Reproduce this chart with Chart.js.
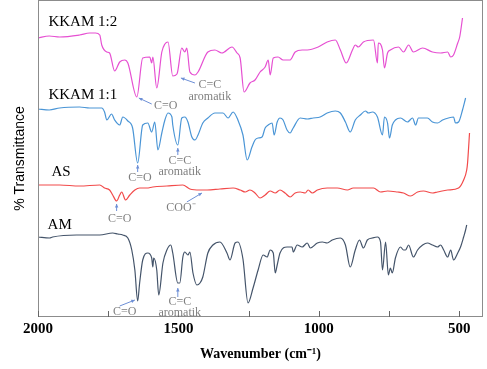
<!DOCTYPE html>
<html>
<head>
<meta charset="utf-8">
<script src="https://cdn.jsdelivr.net/npm/chart.js@4/dist/chart.umd.min.js"></script>
<style>
html,body{margin:0;padding:0;background:#fff;}
#wrap{width:487px;height:369px;}
</style>
</head>
<body>
<div id="wrap"><canvas id="ftir"></canvas></div>
<script>
// wavenumber (cm-1) y transmitancia desplazada (unidades arbitrarias)
const wnKkam12 = [2000,1960,1923,1852,1816,1795,1780,1773,1755,1745,1727,1709,1691,1680,1648,1627,1602,1595,1591,1577,1559,1548,1537,1520,1505,1488,1477,1470,1459,1441,1430,1395,1370,1345,1309,1291,1280,1266,1245,1227,1209,1191,1180,1173,1162,1145,1127,1102,1084,1059,1041,1002,970,941,923,902,880,870,859,841,805,791,788,773,766,755,745,716,698,680,663,630,595,566,541,530,520,505,498,488];
const tKkam12  = [279,281,280,282,284,284,282,272,265,264,246,255,257,254,220,259,260,254,260,229,265,273,275,241,243,269,265,269,245,242,245,265,267,264,270,264,259,225,234,237,245,250,257,242,259,260,257,257,265,267,267,270,275,277,267,254,267,272,270,275,277,254,274,267,249,264,267,270,265,272,265,269,265,264,265,260,262,274,280,299];

const wnKkam11 = [2000,1960,1923,1852,1816,1773,1763,1755,1738,1727,1709,1698,1680,1663,1645,1627,1609,1595,1584,1573,1559,1548,1537,1523,1520,1502,1488,1477,1466,1452,1441,1430,1413,1395,1370,1341,1323,1305,1288,1270,1255,1238,1227,1216,1202,1191,1180,1166,1159,1148,1138,1127,1113,1102,1091,1066,1041,1020,995,970,941,923,905,888,870,852,834,823,809,791,773,766,755,748,738,727,709,684,666,655,645,613,595,577,559,538,520,513,502,488,477];
const tKkam11  = [208,207,209,210,209,209,205,197,203,197,192,200,196,189,154,192,194,185,195,167,184,197,204,200,192,172,199,200,195,180,177,182,194,199,204,204,199,205,197,182,157,170,177,179,180,189,192,194,182,195,199,197,187,184,189,199,198,199,200,204,206,204,195,185,197,202,206,204,205,200,182,200,194,179,192,197,199,195,199,192,199,199,195,194,197,199,200,194,195,207,219];

const wnAs = [2000,1923,1852,1780,1763,1745,1734,1720,1709,1702,1688,1673,1655,1638,1613,1591,1541,1484,1459,1423,1398,1352,1305,1280,1262,1245,1227,1209,1191,1173,1155,1138,1120,1102,1084,1066,1048,1038,1023,1005,970,934,898,877,845,805,780,755,720,698,673,648,627,595,577,541,502,484,473,470,463];
const tAs  = [132,132,131,132,129,127,122,116,122,125,117,122,127,129,129,130,131,132,128,127,127,128,129,127,125,127,124,119,122,126,124,127,124,120,124,125,124,127,124,127,129,129,127,129,129,129,125,126,125,124,121,125,126,124,125,127,129,137,147,154,184];

const wnAm = [2000,1959,1948,1863,1780,1734,1716,1698,1680,1666,1655,1645,1638,1627,1609,1595,1591,1588,1577,1570,1555,1541,1527,1520,1502,1495,1484,1477,1466,1459,1448,1434,1423,1413,1395,1377,1352,1327,1316,1298,1288,1270,1252,1234,1216,1198,1184,1173,1162,1155,1148,1138,1113,1095,1091,1077,1059,1041,1030,1005,987,970,952,923,905,888,870,855,841,827,809,791,780,773,762,752,745,738,727,709,698,691,680,663,648,630,613,595,577,566,555,541,530,520,505,495,484,477,473];
const tAm  = [80,79,80,82,82,84,83,82,79,67,47,16,34,57,64,59,50,59,47,22,54,67,72,64,34,34,60,65,62,65,44,32,34,40,64,72,75,64,57,74,75,58,14,29,47,62,60,67,64,44,52,64,70,70,65,72,70,74,69,74,75,74,77,79,72,50,67,77,69,77,79,80,75,47,75,42,49,44,59,70,67,67,72,60,67,72,74,72,70,72,67,60,67,57,64,70,80,87,92];

const nombresSeries = ["KKAM 1:2", "KKAM 1:1", "AS", "AM"];
const coloresSeries = ["#e650d2", "#4a95d6", "#f24a4a", "#44546a"];

// etiquetas de serie: [texto, wavenumber, valor]
const etiquetasSeries = [
  ["KKAM 1:2", 1963, 295],
  ["KKAM 1:1", 1963, 222],
  ["AS", 1952, 145],
  ["AM", 1966, 92]
];

// notas de grupos funcionales: [texto, wavenumber, valor]
const notas = [
  ["C=O", 1545, 211], ["C=C", 1388, 232], ["aromatik", 1388, 220],
  ["C=O", 1637, 139], ["C=C", 1495, 156], ["aromatik", 1495, 145],
  ["C=O", 1709, 98],  ["COO\u207B", 1491, 109],
  ["C=O", 1691, 5],   ["C=C", 1495, 15], ["aromatik", 1495, 4]
];

// flechas: [wn cola, valor cola, wn punta, valor punta]
const flechas = [
  [1595, 213, 1641, 219], [1441, 234, 1491, 239],
  [1645, 145, 1645, 152], [1502, 162, 1502, 169],
  [1720, 106, 1720, 113], [1470, 115, 1416, 124],
  [1709, 11, 1655, 17],   [1502, 20, 1502, 29]
];

const ejeMarcas = [2000, 1750, 1500, 1250, 1000, 750, 500];

function armarSerie(wn, t){
  return wn.map((w, i) => ({x: w, y: t[i]}));
}

const seriesData = [
  armarSerie(wnKkam12, tKkam12),
  armarSerie(wnKkam11, tKkam11),
  armarSerie(wnAs, tAs),
  armarSerie(wnAm, tAm)
];

const decorar = {
  id: "decorar",
  afterDraw(chart){
    const ctx = chart.ctx;
    const xs = chart.scales.x;
    const ys = chart.scales.y;
    const area = chart.chartArea;

    ctx.save();
    // marco
    ctx.strokeStyle = "#8c8c8c";
    ctx.lineWidth = 1;
    ctx.strokeRect(area.left + 0.5, area.top + 0.5, area.right - area.left - 1, area.bottom - area.top - 1);

    // marcas hacia adentro
    ctx.strokeStyle = "#666";
    ejeMarcas.forEach(v => {
      const px = Math.round(xs.getPixelForValue(v)) + 0.5;
      ctx.beginPath();
      ctx.moveTo(px, area.bottom);
      ctx.lineTo(px, area.bottom - 6);
      ctx.stroke();
    });

    // etiquetas de serie
    ctx.fillStyle = "#000";
    ctx.font = "15px 'Liberation Serif', serif";
    ctx.textAlign = "left";
    ctx.textBaseline = "middle";
    etiquetasSeries.forEach(e => {
      ctx.fillText(e[0], xs.getPixelForValue(e[1]), ys.getPixelForValue(e[2]));
    });

    // notas
    ctx.fillStyle = "#7f7f7f";
    ctx.font = "12px 'Liberation Serif', serif";
    ctx.textAlign = "center";
    notas.forEach(n => {
      ctx.fillText(n[0], xs.getPixelForValue(n[1]), ys.getPixelForValue(n[2]));
    });

    // flechas
    ctx.strokeStyle = "#6d8fd6";
    ctx.fillStyle = "#6d8fd6";
    ctx.lineWidth = 1;
    flechas.forEach(f => {
      const x1 = xs.getPixelForValue(f[0]), y1 = ys.getPixelForValue(f[1]);
      const x2 = xs.getPixelForValue(f[2]), y2 = ys.getPixelForValue(f[3]);
      const ang = Math.atan2(y2 - y1, x2 - x1);
      ctx.beginPath();
      ctx.moveTo(x1, y1);
      ctx.lineTo(x2, y2);
      ctx.stroke();
      ctx.beginPath();
      ctx.moveTo(x2, y2);
      ctx.lineTo(x2 - 4 * Math.cos(ang - 0.45), y2 - 4 * Math.sin(ang - 0.45));
      ctx.lineTo(x2 - 4 * Math.cos(ang + 0.45), y2 - 4 * Math.sin(ang + 0.45));
      ctx.closePath();
      ctx.fill();
    });
    ctx.restore();
  }
};

new Chart(document.getElementById("ftir"), {
  type: "line",
  data: {
    datasets: seriesData.map((d, i) => ({
      label: nombresSeries[i],
      data: d,
      borderColor: coloresSeries[i],
      borderWidth: 1.2,
      pointRadius: 0,
      fill: false,
      cubicInterpolationMode: "monotone"
    }))
  },
  options: {
    responsive: true,
    maintainAspectRatio: false,
    animation: false,
    layout: {padding: {top: 0, right: 4, bottom: 0, left: 0}},
    plugins: {
      legend: {display: false},
      tooltip: {enabled: false}
    },
    scales: {
      x: {
        type: "linear",
        reverse: true,
        min: 415,
        max: 2000,
        afterFit: s => { s.height = 52; },
        grid: {display: false, drawTicks: false},
        border: {display: false},
        ticks: {
          stepSize: 250,
          includeBounds: false,
          autoSkip: false,
          maxRotation: 0,
          padding: 3,
          color: "#000",
          font: {family: "'Liberation Serif', serif", size: 15, weight: "bold"},
          callback: v => (v % 500 === 0 ? String(v) : "")
        },
        title: {
          display: true,
          text: "Wavenumber (cm\u207B\u00B9)",
          color: "#000",
          font: {family: "'Liberation Serif', serif", size: 14, weight: "bold"},
          padding: {top: 0, bottom: 6}
        }
      },
      y: {
        min: 0,
        max: 317,
        afterFit: s => { s.width = 38; },
        grid: {display: false, drawTicks: false},
        border: {display: false},
        ticks: {display: false},
        title: {
          display: true,
          text: "% Transmittance",
          color: "#000",
          font: {family: "'Liberation Sans', Arial, sans-serif", size: 14},
          padding: {top: 12, bottom: 0}
        }
      }
    }
  },
  plugins: [decorar]
});
</script>
</body>
</html>
